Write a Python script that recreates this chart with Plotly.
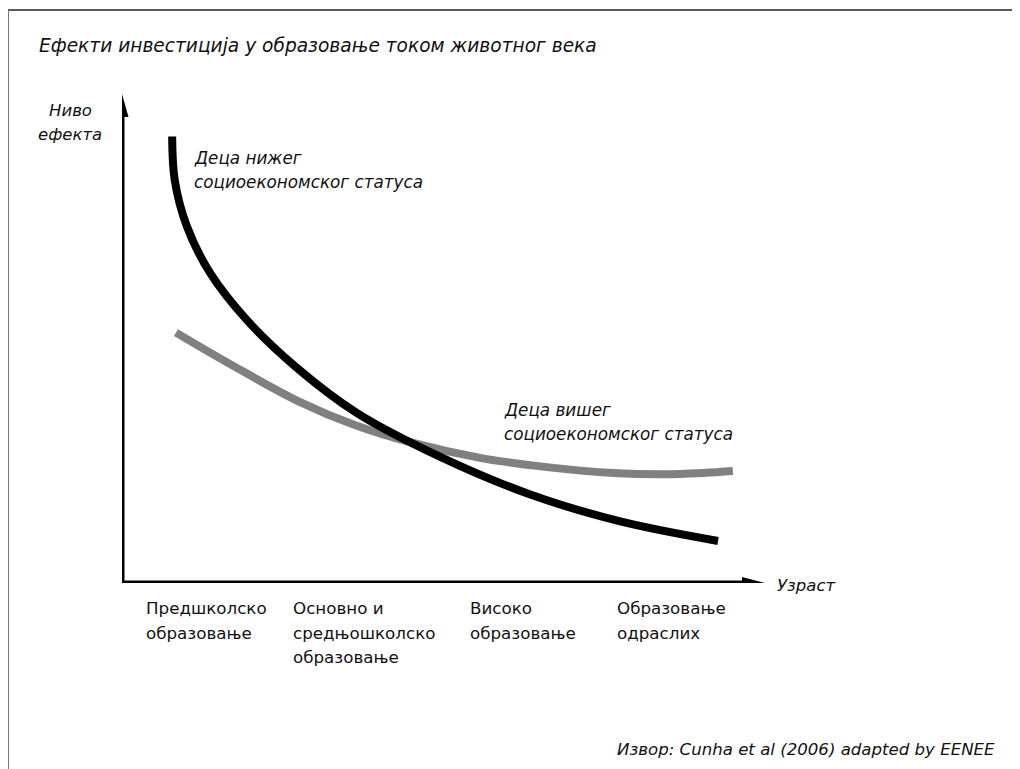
import plotly.graph_objects as go

# ---------------- data ----------------
low_x = [0.78, 0.82, 1.01, 1.37, 1.94, 2.72, 3.65, 4.95, 6.35, 7.75, 9.27]
low_y = [9.13, 8.24, 7.29, 6.34, 5.38, 4.40, 3.48, 2.58, 1.81, 1.26, 0.86]

high_x = [0.84, 1.73, 2.77, 3.62, 4.48, 5.57, 6.61, 7.64, 8.68, 9.50]
high_y = [5.12, 4.44, 3.70, 3.23, 2.88, 2.56, 2.37, 2.25, 2.23, 2.29]

stage_x = [0.34, 2.63, 5.38, 7.67]
stage_labels = [
    ["Предшколско", "образовање"],
    ["Основно и", "средњошколско", "образовање"],
    ["Високо", "образовање"],
    ["Образовање", "одраслих"],
]

title_text = "Ефекти инвестиција у образовање током животног века"
y_title = ["Ниво", "ефекта"]
x_title = "Узраст"
low_label = ["Деца нижег", "социоекономског статуса"]
high_label = ["Деца вишег", "социоекономског статуса"]
source_text = "Извор: Cunha et al (2006) adapted by EENEE"

# ---------------- layout helpers ----------------
# page has an 8px body margin, so the figure is drawn 8px smaller and
# all screen positions below are given in window pixels.
OFF = 8
SW, SH = 1020, 769
W, H = SW - OFF, SH - OFF
AX_L, AX_R, AX_T, AX_B = 122, 765, 94, 583  # window pixels of plot area
L, T = AX_L - OFF, AX_T - OFF
R, B = SW - AX_R, SH - AX_B
PW, PH = AX_R - AX_L, AX_B - AX_T


def px(x):
    return (x - AX_L) / PW


def py(y):
    return (AX_B - y) / PH


FONT = "DejaVu Sans"

fig = go.Figure()
fig.add_trace(go.Scatter(x=high_x, y=high_y, mode="lines",
                         line=dict(color="#808080", width=8, shape="spline", smoothing=1.0, simplify=False),
                         hoverinfo="skip", showlegend=False))
fig.add_trace(go.Scatter(x=low_x, y=low_y, mode="lines",
                         line=dict(color="#000000", width=8, shape="spline", smoothing=1.0, simplify=False),
                         hoverinfo="skip", showlegend=False))

shapes = []
# axes
shapes.append(dict(type="path", xref="x", yref="y", path="M 0,9.6 L 0,0 L 9.65,0",
                   line=dict(color="black", width=5)))
shapes.append(dict(type="path", xref="x", yref="y", xsizemode="pixel", ysizemode="pixel",
                   xanchor=0, yanchor=10, path="M -6.5,-23 L 6.5,-23 L 0,0 Z",
                   fillcolor="black", line=dict(color="black", width=0)))
shapes.append(dict(type="path", xref="x", yref="y", xsizemode="pixel", ysizemode="pixel",
                   xanchor=10, yanchor=0, path="M -23,-6 L -23,6 L 0,0 Z",
                   fillcolor="black", line=dict(color="black", width=0)))
# frame
shapes.append(dict(type="line", xref="paper", yref="paper", x0=px(8), x1=px(1020), y0=py(10), y1=py(10),
                   line=dict(color="#222222", width=1.5)))
shapes.append(dict(type="line", xref="paper", yref="paper", x0=px(8), x1=px(8), y0=py(10), y1=py(769),
                   line=dict(color="#777777", width=2)))

ann = []


def text(x, y, s, size=16, italic=False, xanchor="left"):
    ann.append(dict(x=px(x), y=py(y), xref="paper", yref="paper", text=s, showarrow=False,
                    xanchor=xanchor, yanchor="middle",
                    font=dict(family=FONT, size=size, color="#111111",
                              style="italic" if italic else "normal")))


text(37, 46, title_text, size=18.6, italic=True)
text(70, 111, y_title[0], size=16.5, italic=True, xanchor="center")
text(70, 134, y_title[1], size=16.5, italic=True, xanchor="center")
text(775, 585, x_title, size=16.5, italic=True)
for i, s in enumerate(low_label):
    text(192, 158 + 24 * i, s, size=16.8, italic=True)
for i, s in enumerate(high_label):
    text(502, 410 + 24 * i, s, size=16.8, italic=True)
for sx, lines in zip(stage_x, stage_labels):
    xpix = AX_L + sx * PW / 10
    for i, s in enumerate(lines):
        text(xpix, 608 + 24.5 * i, s, size=16.7)
text(997, 749, source_text, size=16.6, italic=True, xanchor="right")

fig.update_layout(
    width=W, height=H,
    margin=dict(l=L, r=R, t=T, b=B),
    paper_bgcolor="white", plot_bgcolor="white",
    xaxis=dict(range=[0, 10], visible=False, fixedrange=True),
    yaxis=dict(range=[0, 10], visible=False, fixedrange=True),
    shapes=shapes, annotations=ann, showlegend=False,
)
fig.write_html("out.html", config={"displayModeBar": False})
